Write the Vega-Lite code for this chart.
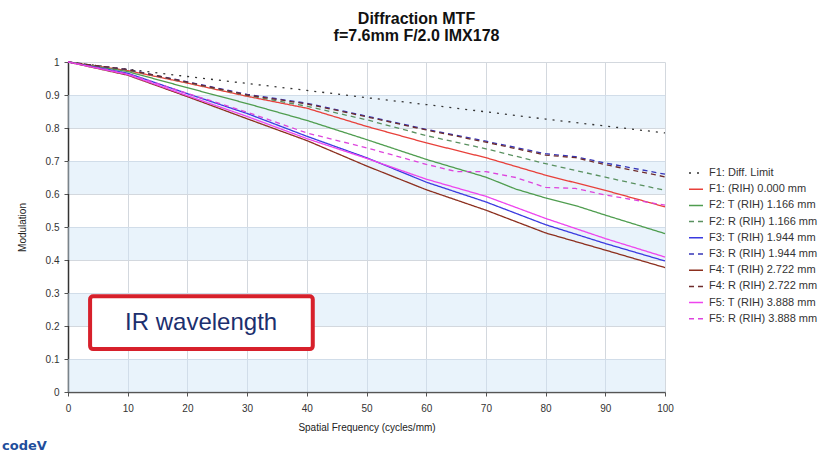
{
  "$schema": "https://vega.github.io/schema/vega-lite/v6.json",
  "width": 597,
  "height": 330,
  "autosize": {"type": "none"},
  "padding": {"left": 68, "top": 62, "right": 168, "bottom": 66},
  "background": "white",
  "title": {
    "text": ["Diffraction MTF", "f=7.6mm F/2.0 IMX178"],
    "font": "Liberation Sans",
    "fontSize": 16,
    "fontWeight": "bold",
    "color": "#111111",
    "anchor": "middle",
    "dx": 50,
    "offset": 13,
    "lineHeight": 17
  },
  "config": {
    "view": {"stroke": null},
    "axisY": {
      "values": [0, 0.1, 0.2, 0.3, 0.4, 0.5, 0.6, 0.7, 0.8, 0.9, 1],
      "format": "~g",
      "labelOverlap": false,
      "grid": true,
      "gridColor": "#d3d8de",
      "gridWidth": 1,
      "domainColor": "#333333",
      "domainWidth": 1.5,
      "tickColor": "#555555",
      "tickSize": 4,
      "labelFont": "Liberation Sans",
      "labelFontSize": 10,
      "labelColor": "#333333",
      "labelPadding": 5,
      "titleFont": "Liberation Sans",
      "titleFontSize": 10,
      "titleFontWeight": "normal",
      "titleColor": "#222222",
      "titlePadding": 18
    },
    "axisX": {
      "labelFlush": false,
      "labelOverlap": false,
      "grid": true,
      "gridColor": "#d3d8de",
      "gridWidth": 1,
      "domainColor": "#555555",
      "domainWidth": 1.5,
      "tickColor": "#555555",
      "tickSize": 4,
      "labelFont": "Liberation Sans",
      "labelFontSize": 10,
      "labelColor": "#333333",
      "labelPadding": 7,
      "titleFont": "Liberation Sans",
      "titleFontSize": 10,
      "titleFontWeight": "normal",
      "titleColor": "#222222",
      "titlePadding": 9
    },
    "legend": {
      "orient": "none",
      "legendX": 620,
      "legendY": 103,
      "symbolType": "stroke",
      "symbolSize": 196,
      "symbolStrokeWidth": 1.5,
      "labelFont": "Liberation Sans",
      "labelFontSize": 11,
      "labelColor": "#333333",
      "rowPadding": 3.2,
      "labelOffset": 5,
      "labelLimit": 200
    }
  },
  "datasets": {
    "bands": [
      {"lo": 0, "hi": 0.1},
      {"lo": 0.2, "hi": 0.3},
      {"lo": 0.4, "hi": 0.5},
      {"lo": 0.6, "hi": 0.7},
      {"lo": 0.8, "hi": 0.9}
    ],
    "box": [{"x0": 3.7, "x1": 41, "y0": 0.13, "y1": 0.29}],
    "note": [{"x": 22.3, "y": 0.209, "label": "IR wavelength"}],
    "logo": [{"x": -7.3, "y": -0.163, "label": "codeV"}],
    "curves": [
      {"s": "F1: Diff. Limit", "x": 0, "y": 1},
      {"s": "F1: Diff. Limit", "x": 10, "y": 0.978},
      {"s": "F1: Diff. Limit", "x": 20, "y": 0.956},
      {"s": "F1: Diff. Limit", "x": 30, "y": 0.935},
      {"s": "F1: Diff. Limit", "x": 40, "y": 0.914},
      {"s": "F1: Diff. Limit", "x": 50, "y": 0.892},
      {"s": "F1: Diff. Limit", "x": 60, "y": 0.871},
      {"s": "F1: Diff. Limit", "x": 70, "y": 0.849},
      {"s": "F1: Diff. Limit", "x": 80, "y": 0.827},
      {"s": "F1: Diff. Limit", "x": 90, "y": 0.806},
      {"s": "F1: Diff. Limit", "x": 100, "y": 0.785},

      {"s": "F1: (RIH) 0.000 mm", "x": 0, "y": 1},
      {"s": "F1: (RIH) 0.000 mm", "x": 10, "y": 0.974},
      {"s": "F1: (RIH) 0.000 mm", "x": 20, "y": 0.936},
      {"s": "F1: (RIH) 0.000 mm", "x": 30, "y": 0.896},
      {"s": "F1: (RIH) 0.000 mm", "x": 40, "y": 0.86},
      {"s": "F1: (RIH) 0.000 mm", "x": 50, "y": 0.805},
      {"s": "F1: (RIH) 0.000 mm", "x": 60, "y": 0.755},
      {"s": "F1: (RIH) 0.000 mm", "x": 70, "y": 0.71},
      {"s": "F1: (RIH) 0.000 mm", "x": 80, "y": 0.657},
      {"s": "F1: (RIH) 0.000 mm", "x": 90, "y": 0.611},
      {"s": "F1: (RIH) 0.000 mm", "x": 100, "y": 0.561},

      {"s": "F2: T (RIH) 1.166 mm", "x": 0, "y": 1},
      {"s": "F2: T (RIH) 1.166 mm", "x": 10, "y": 0.971},
      {"s": "F2: T (RIH) 1.166 mm", "x": 20, "y": 0.922},
      {"s": "F2: T (RIH) 1.166 mm", "x": 30, "y": 0.874},
      {"s": "F2: T (RIH) 1.166 mm", "x": 40, "y": 0.823},
      {"s": "F2: T (RIH) 1.166 mm", "x": 50, "y": 0.765},
      {"s": "F2: T (RIH) 1.166 mm", "x": 60, "y": 0.705},
      {"s": "F2: T (RIH) 1.166 mm", "x": 70, "y": 0.651},
      {"s": "F2: T (RIH) 1.166 mm", "x": 75, "y": 0.615},
      {"s": "F2: T (RIH) 1.166 mm", "x": 80, "y": 0.588},
      {"s": "F2: T (RIH) 1.166 mm", "x": 85, "y": 0.565},
      {"s": "F2: T (RIH) 1.166 mm", "x": 90, "y": 0.536},
      {"s": "F2: T (RIH) 1.166 mm", "x": 100, "y": 0.48},

      {"s": "F2: R (RIH) 1.166 mm", "x": 0, "y": 1},
      {"s": "F2: R (RIH) 1.166 mm", "x": 10, "y": 0.976},
      {"s": "F2: R (RIH) 1.166 mm", "x": 20, "y": 0.938},
      {"s": "F2: R (RIH) 1.166 mm", "x": 30, "y": 0.899},
      {"s": "F2: R (RIH) 1.166 mm", "x": 40, "y": 0.866},
      {"s": "F2: R (RIH) 1.166 mm", "x": 50, "y": 0.825},
      {"s": "F2: R (RIH) 1.166 mm", "x": 60, "y": 0.777},
      {"s": "F2: R (RIH) 1.166 mm", "x": 70, "y": 0.737},
      {"s": "F2: R (RIH) 1.166 mm", "x": 80, "y": 0.692},
      {"s": "F2: R (RIH) 1.166 mm", "x": 90, "y": 0.651},
      {"s": "F2: R (RIH) 1.166 mm", "x": 100, "y": 0.611},

      {"s": "F3: T (RIH) 1.944 mm", "x": 0, "y": 1},
      {"s": "F3: T (RIH) 1.944 mm", "x": 10, "y": 0.966},
      {"s": "F3: T (RIH) 1.944 mm", "x": 20, "y": 0.904},
      {"s": "F3: T (RIH) 1.944 mm", "x": 30, "y": 0.844},
      {"s": "F3: T (RIH) 1.944 mm", "x": 40, "y": 0.775},
      {"s": "F3: T (RIH) 1.944 mm", "x": 50, "y": 0.71},
      {"s": "F3: T (RIH) 1.944 mm", "x": 60, "y": 0.636},
      {"s": "F3: T (RIH) 1.944 mm", "x": 70, "y": 0.576},
      {"s": "F3: T (RIH) 1.944 mm", "x": 80, "y": 0.507},
      {"s": "F3: T (RIH) 1.944 mm", "x": 90, "y": 0.45},
      {"s": "F3: T (RIH) 1.944 mm", "x": 100, "y": 0.397},

      {"s": "F3: R (RIH) 1.944 mm", "x": 0, "y": 1},
      {"s": "F3: R (RIH) 1.944 mm", "x": 10, "y": 0.977},
      {"s": "F3: R (RIH) 1.944 mm", "x": 20, "y": 0.94},
      {"s": "F3: R (RIH) 1.944 mm", "x": 30, "y": 0.902},
      {"s": "F3: R (RIH) 1.944 mm", "x": 40, "y": 0.875},
      {"s": "F3: R (RIH) 1.944 mm", "x": 50, "y": 0.836},
      {"s": "F3: R (RIH) 1.944 mm", "x": 60, "y": 0.796},
      {"s": "F3: R (RIH) 1.944 mm", "x": 70, "y": 0.76},
      {"s": "F3: R (RIH) 1.944 mm", "x": 80, "y": 0.722},
      {"s": "F3: R (RIH) 1.944 mm", "x": 85, "y": 0.713},
      {"s": "F3: R (RIH) 1.944 mm", "x": 90, "y": 0.694},
      {"s": "F3: R (RIH) 1.944 mm", "x": 100, "y": 0.66},

      {"s": "F4: T (RIH) 2.722 mm", "x": 0, "y": 1},
      {"s": "F4: T (RIH) 2.722 mm", "x": 10, "y": 0.96},
      {"s": "F4: T (RIH) 2.722 mm", "x": 20, "y": 0.895},
      {"s": "F4: T (RIH) 2.722 mm", "x": 30, "y": 0.828},
      {"s": "F4: T (RIH) 2.722 mm", "x": 40, "y": 0.762},
      {"s": "F4: T (RIH) 2.722 mm", "x": 50, "y": 0.685},
      {"s": "F4: T (RIH) 2.722 mm", "x": 60, "y": 0.613},
      {"s": "F4: T (RIH) 2.722 mm", "x": 70, "y": 0.551},
      {"s": "F4: T (RIH) 2.722 mm", "x": 80, "y": 0.482},
      {"s": "F4: T (RIH) 2.722 mm", "x": 90, "y": 0.43},
      {"s": "F4: T (RIH) 2.722 mm", "x": 100, "y": 0.377},

      {"s": "F4: R (RIH) 2.722 mm", "x": 0, "y": 1},
      {"s": "F4: R (RIH) 2.722 mm", "x": 10, "y": 0.977},
      {"s": "F4: R (RIH) 2.722 mm", "x": 20, "y": 0.939},
      {"s": "F4: R (RIH) 2.722 mm", "x": 30, "y": 0.9},
      {"s": "F4: R (RIH) 2.722 mm", "x": 40, "y": 0.873},
      {"s": "F4: R (RIH) 2.722 mm", "x": 50, "y": 0.834},
      {"s": "F4: R (RIH) 2.722 mm", "x": 60, "y": 0.794},
      {"s": "F4: R (RIH) 2.722 mm", "x": 70, "y": 0.757},
      {"s": "F4: R (RIH) 2.722 mm", "x": 80, "y": 0.718},
      {"s": "F4: R (RIH) 2.722 mm", "x": 85, "y": 0.71},
      {"s": "F4: R (RIH) 2.722 mm", "x": 90, "y": 0.689},
      {"s": "F4: R (RIH) 2.722 mm", "x": 100, "y": 0.652},

      {"s": "F5: T (RIH) 3.888 mm", "x": 0, "y": 1},
      {"s": "F5: T (RIH) 3.888 mm", "x": 10, "y": 0.962},
      {"s": "F5: T (RIH) 3.888 mm", "x": 20, "y": 0.898},
      {"s": "F5: T (RIH) 3.888 mm", "x": 30, "y": 0.835},
      {"s": "F5: T (RIH) 3.888 mm", "x": 40, "y": 0.768},
      {"s": "F5: T (RIH) 3.888 mm", "x": 50, "y": 0.708},
      {"s": "F5: T (RIH) 3.888 mm", "x": 60, "y": 0.645},
      {"s": "F5: T (RIH) 3.888 mm", "x": 70, "y": 0.593},
      {"s": "F5: T (RIH) 3.888 mm", "x": 80, "y": 0.526},
      {"s": "F5: T (RIH) 3.888 mm", "x": 90, "y": 0.465},
      {"s": "F5: T (RIH) 3.888 mm", "x": 100, "y": 0.409},

      {"s": "F5: R (RIH) 3.888 mm", "x": 0, "y": 1},
      {"s": "F5: R (RIH) 3.888 mm", "x": 10, "y": 0.964},
      {"s": "F5: R (RIH) 3.888 mm", "x": 20, "y": 0.905},
      {"s": "F5: R (RIH) 3.888 mm", "x": 30, "y": 0.848},
      {"s": "F5: R (RIH) 3.888 mm", "x": 40, "y": 0.785},
      {"s": "F5: R (RIH) 3.888 mm", "x": 50, "y": 0.74},
      {"s": "F5: R (RIH) 3.888 mm", "x": 60, "y": 0.69},
      {"s": "F5: R (RIH) 3.888 mm", "x": 65, "y": 0.668},
      {"s": "F5: R (RIH) 3.888 mm", "x": 70, "y": 0.668},
      {"s": "F5: R (RIH) 3.888 mm", "x": 75, "y": 0.65},
      {"s": "F5: R (RIH) 3.888 mm", "x": 80, "y": 0.62},
      {"s": "F5: R (RIH) 3.888 mm", "x": 85, "y": 0.617},
      {"s": "F5: R (RIH) 3.888 mm", "x": 90, "y": 0.597},
      {"s": "F5: R (RIH) 3.888 mm", "x": 100, "y": 0.566}
    ]
  },
  "layer": [
    {
      "data": {"name": "bands"},
      "mark": {"type": "rect", "fill": "#cfe5f7", "opacity": 0.45},
      "encoding": {
        "y": {
          "field": "lo",
          "type": "quantitative",
          "scale": {"domain": [0, 1], "nice": false},
          "title": "Modulation"
        },
        "y2": {"field": "hi"}
      }
    },
    {
      "data": {"name": "curves"},
      "mark": {"type": "line", "strokeWidth": 1.3},
      "encoding": {
        "x": {
          "field": "x",
          "type": "quantitative",
          "scale": {"domain": [0, 100], "nice": false},
          "axis": {
            "title": "Spatial Frequency (cycles/mm)",
            "values": [0, 10, 20, 30, 40, 50, 60, 70, 80, 90, 100]
          }
        },
        "y": {
          "field": "y",
          "type": "quantitative",
          "scale": {"domain": [0, 1], "nice": false},
          "title": "Modulation"
        },
        "color": {
          "field": "s",
          "type": "nominal",
          "title": null,
          "scale": {
            "domain": ["F1: Diff. Limit", "F1: (RIH) 0.000 mm", "F2: T (RIH) 1.166 mm", "F2: R (RIH) 1.166 mm", "F3: T (RIH) 1.944 mm", "F3: R (RIH) 1.944 mm", "F4: T (RIH) 2.722 mm", "F4: R (RIH) 2.722 mm", "F5: T (RIH) 3.888 mm", "F5: R (RIH) 3.888 mm"],
            "range": ["#333333", "#e8403a", "#4f9d4f", "#5a9160", "#3a3ae0", "#3636b8", "#8c2f1e", "#6e2c2c", "#ee44ee", "#dd44dd"]
          }
        },
        "strokeDash": {
          "field": "s",
          "type": "nominal",
          "title": null,
          "scale": {
            "domain": ["F1: Diff. Limit", "F1: (RIH) 0.000 mm", "F2: T (RIH) 1.166 mm", "F2: R (RIH) 1.166 mm", "F3: T (RIH) 1.944 mm", "F3: R (RIH) 1.944 mm", "F4: T (RIH) 2.722 mm", "F4: R (RIH) 2.722 mm", "F5: T (RIH) 3.888 mm", "F5: R (RIH) 3.888 mm"],
            "range": [[2, 6], [1, 0], [1, 0], [5, 4], [1, 0], [5, 4], [1, 0], [5, 4], [1, 0], [5, 4]]
          }
        }
      }
    },
    {
      "data": {"name": "box"},
      "mark": {"type": "rect", "fill": "white", "stroke": "#d7202b", "strokeWidth": 4, "cornerRadius": 3},
      "encoding": {
        "x": {"field": "x0", "type": "quantitative"},
        "x2": {"field": "x1"},
        "y": {"field": "y0", "type": "quantitative"},
        "y2": {"field": "y1"}
      }
    },
    {
      "data": {"name": "note"},
      "mark": {"type": "text", "font": "Liberation Sans", "fontSize": 24, "color": "#1c2f6e", "align": "center", "baseline": "middle"},
      "encoding": {
        "x": {"field": "x", "type": "quantitative"},
        "y": {"field": "y", "type": "quantitative"},
        "text": {"field": "label"}
      }
    },
    {
      "data": {"name": "logo"},
      "mark": {"type": "text", "font": "DejaVu Sans", "fontSize": 13, "fontWeight": "bold", "color": "#1f4e9c", "align": "center", "baseline": "middle", "clip": false},
      "encoding": {
        "x": {"field": "x", "type": "quantitative"},
        "y": {"field": "y", "type": "quantitative"},
        "text": {"field": "label"}
      }
    }
  ]
}
